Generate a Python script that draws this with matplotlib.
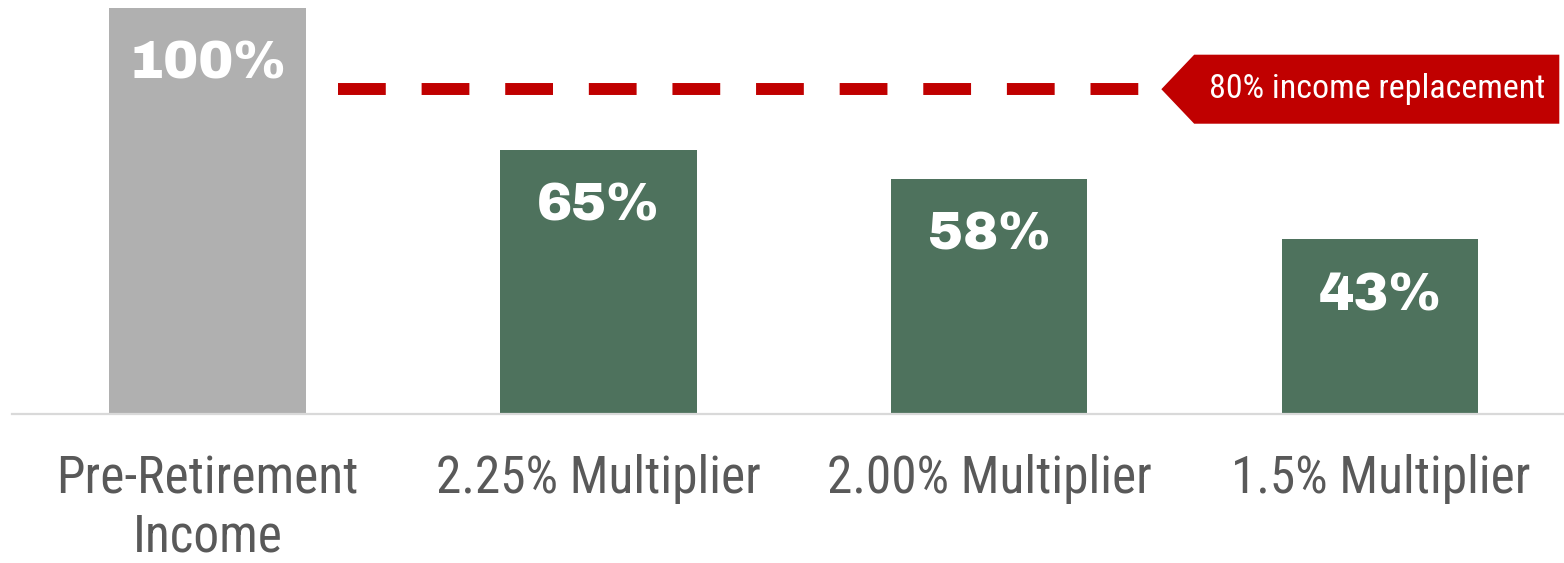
import matplotlib
matplotlib.use("Agg")
import matplotlib.pyplot as plt
from matplotlib.patches import Polygon

categories = ["Pre-Retirement\nIncome", "2.25% Multiplier", "2.00% Multiplier", "1.5% Multiplier"]
values = [100, 65, 58, 43]
bar_colors = ["#B0B0B0", "#4E725D", "#4E725D", "#4E725D"]
target = 80
target_label = "80% income replacement"

narrow = ["Roboto Condensed", "Liberation Sans", "DejaVu Sans"]
heavy = ["Archivo Black", "Liberation Sans", "DejaVu Sans"]

fig = plt.figure(figsize=(15.64, 5.63), dpi=100)
ax = fig.add_axes([12 / 1564, 149 / 563, 1552 / 1564, 414 / 563])

x = list(range(len(values)))
ax.bar(x, values, width=0.502, color=bar_colors, zorder=2)

# value labels inside the top of each bar
for xi, v in zip(x, values):
    ax.text(xi, v - 14.0, f"{v}%", ha="center", va="center", color="white",
            fontsize=38, fontweight="bold", family=heavy, zorder=3)

# dashed target line
ax.plot([0.333, 2.39], [target, target], color="#C00000", lw=8.6,
        dashes=(4, 3), solid_capstyle="butt", dash_capstyle="butt", zorder=2)

# arrow-shaped callout box at the end of the line
tip, left, right, half = 2.44, 2.524, 3.458, 8.5
callout = Polygon([(tip, target), (left, target + half), (right, target + half),
                   (right, target - half), (left, target - half)],
                  closed=True, facecolor="#C00000", edgecolor="none", zorder=2)
ax.add_patch(callout)
ax.text((left + right) / 2, target, target_label, ha="center", va="center",
        color="white", fontsize=24.5, family=narrow, zorder=3)

ax.set_xlim(-0.5, 3.47)
ax.set_ylim(0, 414 / 4.06)
ax.set_xticks(x)
ax.set_xticklabels(categories, fontsize=37, color="#595959", family=narrow, linespacing=1.2)
ax.tick_params(axis="x", length=0, pad=29)
ax.set_yticks([])
for side in ["top", "left", "right"]:
    ax.spines[side].set_visible(False)
ax.spines["bottom"].set_color("#D9D9D9")
ax.spines["bottom"].set_linewidth(1.6)

fig.savefig("out.png", dpi=100, facecolor="white")
